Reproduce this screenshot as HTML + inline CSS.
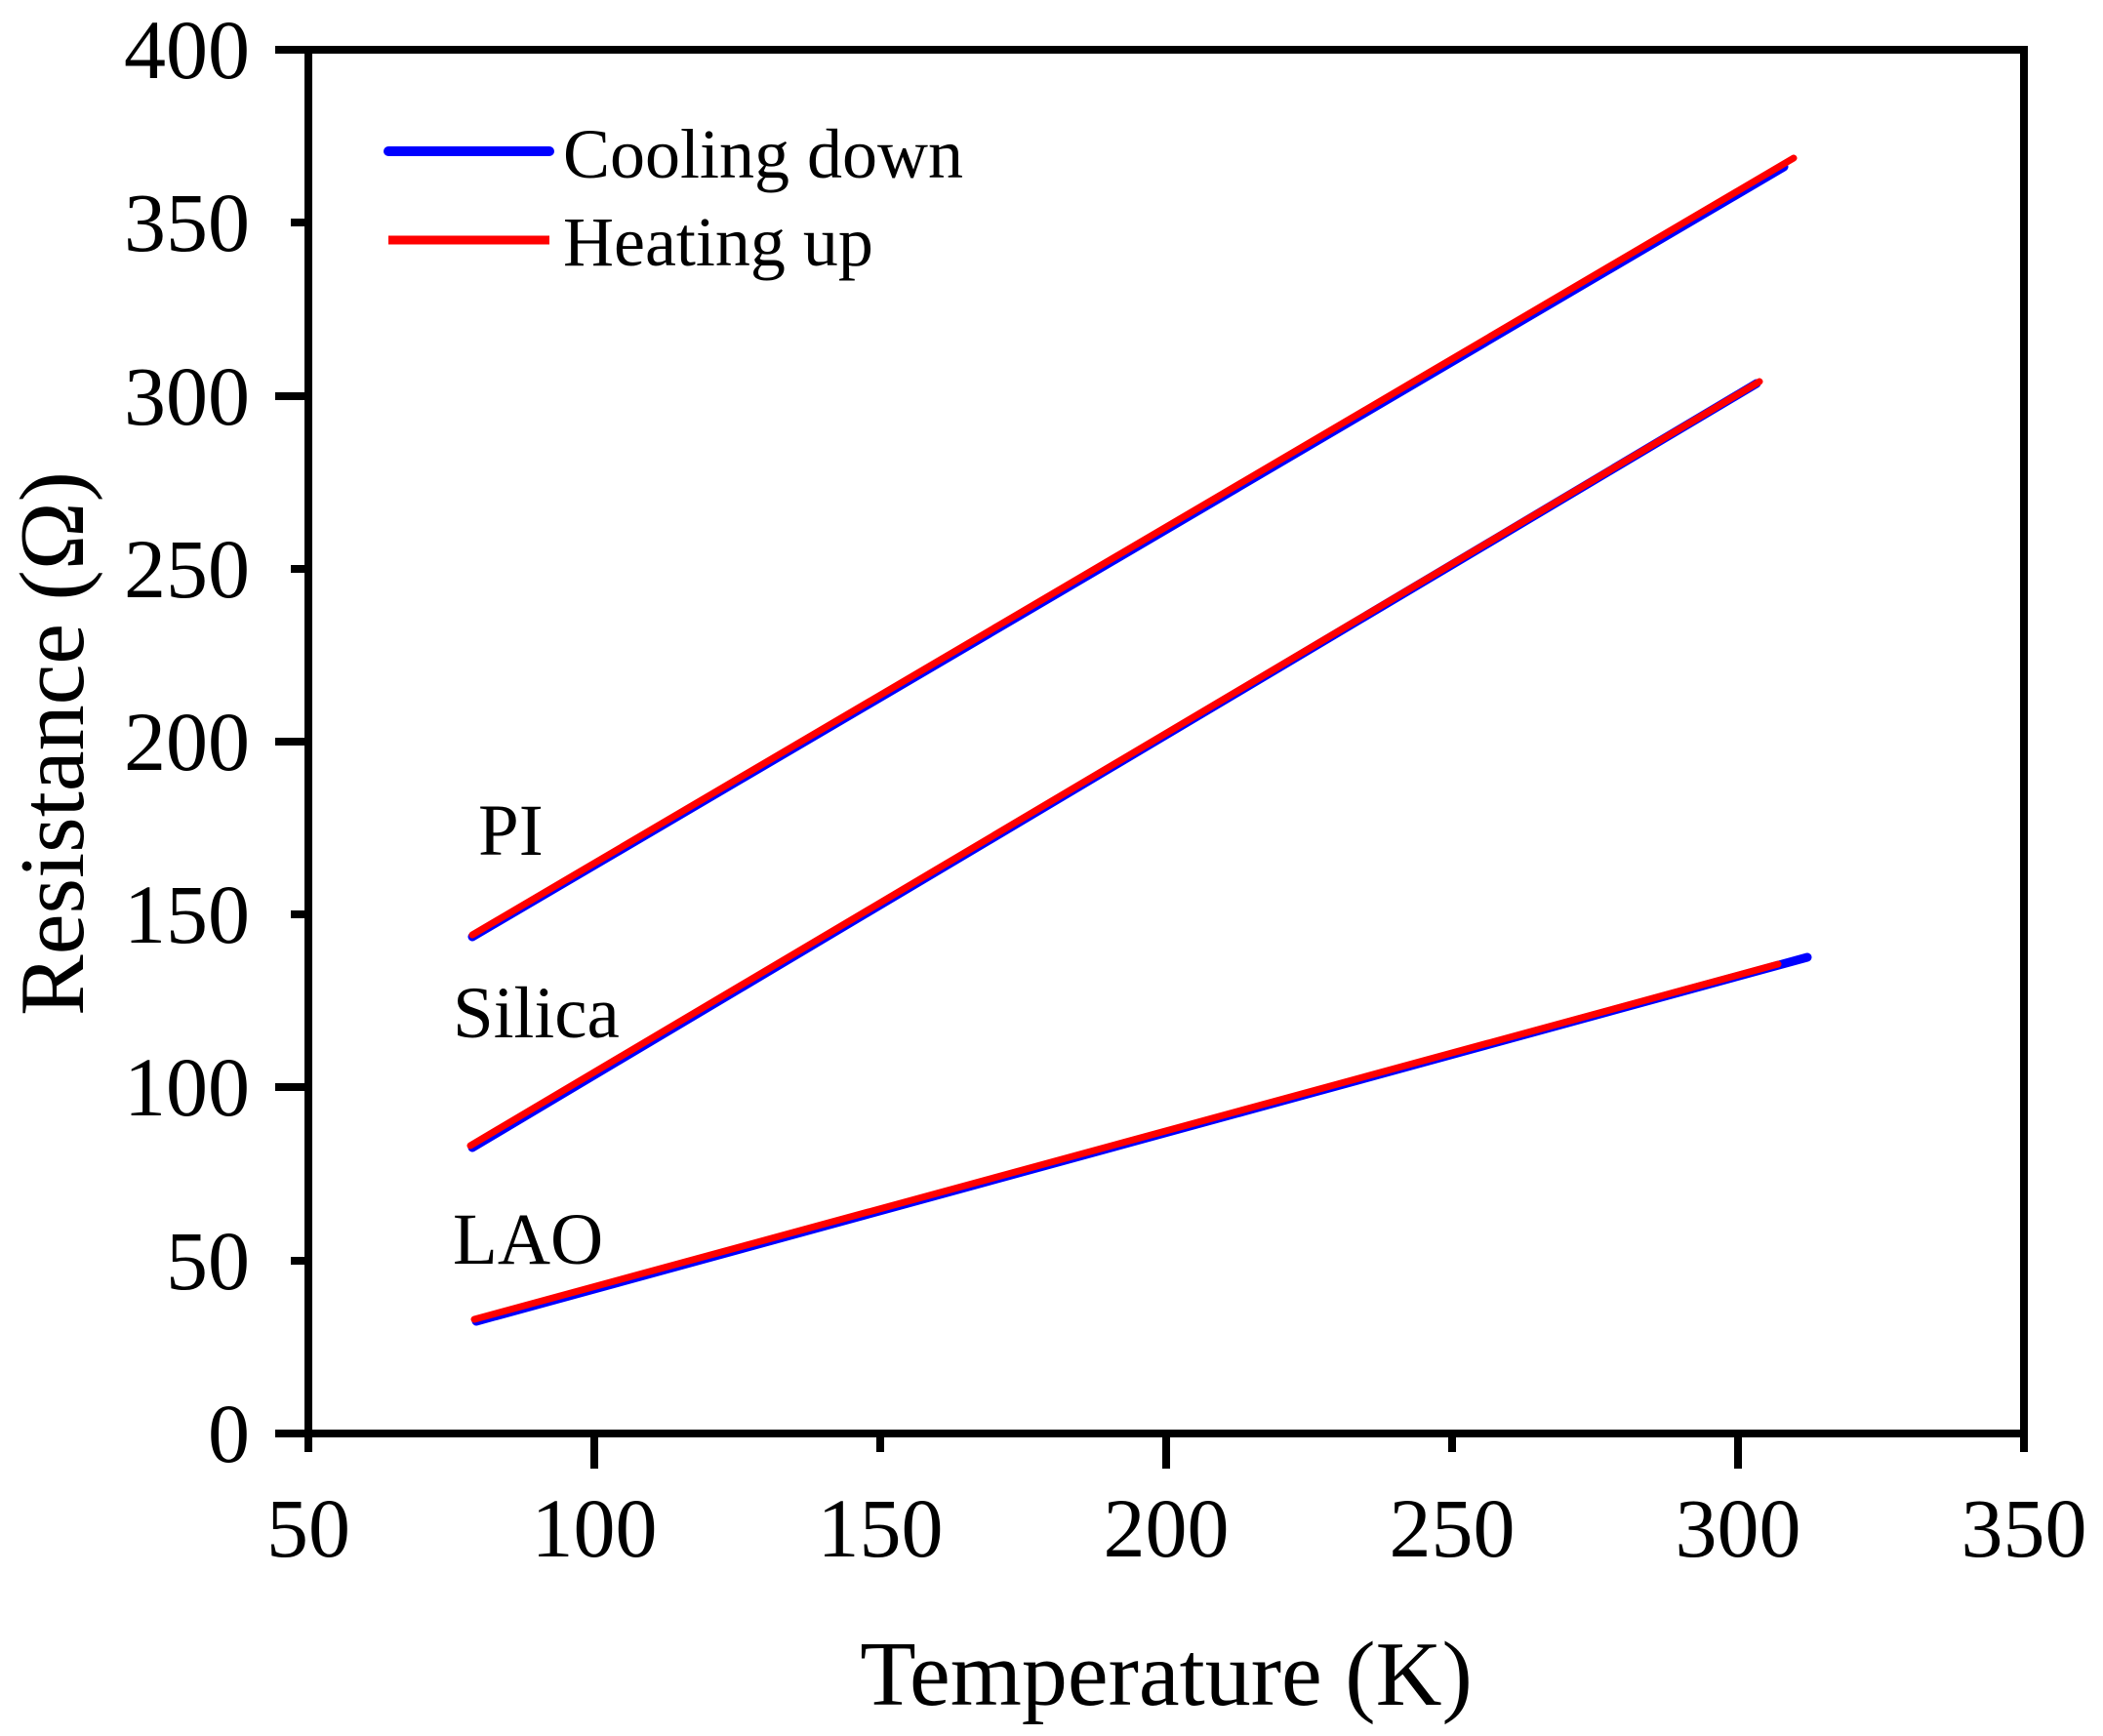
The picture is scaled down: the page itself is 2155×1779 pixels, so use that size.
<!DOCTYPE html>
<html><head><meta charset="utf-8"><style>
html,body{margin:0;padding:0;background:#fff}
svg{display:block}
text{font-family:"Liberation Serif",serif;fill:#000}
</style></head><body>
<svg width="2155" height="1779" viewBox="0 0 2155 1779" xmlns="http://www.w3.org/2000/svg">
<g stroke="#000" stroke-width="8" fill="none">
<rect x="316" y="51" width="1758" height="1418"/>
<line x1="316" y1="1469" x2="316" y2="1488"/>
<line x1="609" y1="1469" x2="609" y2="1505"/>
<line x1="902" y1="1469" x2="902" y2="1488"/>
<line x1="1195" y1="1469" x2="1195" y2="1505"/>
<line x1="1488" y1="1469" x2="1488" y2="1488"/>
<line x1="1781" y1="1469" x2="1781" y2="1505"/>
<line x1="2074" y1="1469" x2="2074" y2="1488"/>
<line x1="316" y1="1469" x2="282" y2="1469"/>
<line x1="316" y1="1292" x2="298" y2="1292"/>
<line x1="316" y1="1114" x2="282" y2="1114"/>
<line x1="316" y1="937" x2="298" y2="937"/>
<line x1="316" y1="760" x2="282" y2="760"/>
<line x1="316" y1="583" x2="298" y2="583"/>
<line x1="316" y1="406" x2="282" y2="406"/>
<line x1="316" y1="228" x2="298" y2="228"/>
<line x1="316" y1="51" x2="282" y2="51"/>
</g>
<g font-size="86" text-anchor="end">
<text x="256" y="1498">0</text>
<text x="256" y="1321">50</text>
<text x="256" y="1143">100</text>
<text x="256" y="966">150</text>
<text x="256" y="789">200</text>
<text x="256" y="612">250</text>
<text x="256" y="435">300</text>
<text x="256" y="257">350</text>
<text x="256" y="80">400</text>
</g>
<g font-size="86" text-anchor="middle">
<text x="316" y="1595">50</text>
<text x="609" y="1595">100</text>
<text x="902" y="1595">150</text>
<text x="1195" y="1595">200</text>
<text x="1488" y="1595">250</text>
<text x="1781" y="1595">300</text>
<text x="2074" y="1595">350</text>
</g>
<text x="1195" y="1747" font-size="94" text-anchor="middle">Temperature (K)</text>
<text transform="translate(85,762) rotate(-90)" font-size="94" text-anchor="middle">Resistance (Ω)</text>
<g stroke-width="9" stroke-linecap="round" fill="none">
<line x1="484" y1="960" x2="1828" y2="171" stroke="#0000ff"/>
<line x1="484" y1="958" x2="1838" y2="162" stroke="#ff0000" stroke-width="7"/>
<line x1="484" y1="1176" x2="1800" y2="393" stroke="#0000ff"/>
<line x1="482" y1="1174" x2="1803" y2="391" stroke="#ff0000" stroke-width="7"/>
<line x1="488" y1="1354" x2="1852" y2="981" stroke="#0000ff"/>
<line x1="486" y1="1352" x2="1822" y2="988" stroke="#ff0000" stroke-width="7"/>
</g>
<g font-size="75">
<text x="490" y="876">PI</text>
<text x="464" y="1063">Silica</text>
<text x="464" y="1295">LAO</text>
</g>
<line x1="398" y1="155" x2="563" y2="155" stroke="#0000ff" stroke-width="10" stroke-linecap="round"/>
<line x1="398" y1="246" x2="563" y2="246" stroke="#ff0000" stroke-width="9"/>
<g font-size="72">
<text x="577" y="182">Cooling down</text>
<text x="577" y="272">Heating up</text>
</g>
</svg>
</body></html>
